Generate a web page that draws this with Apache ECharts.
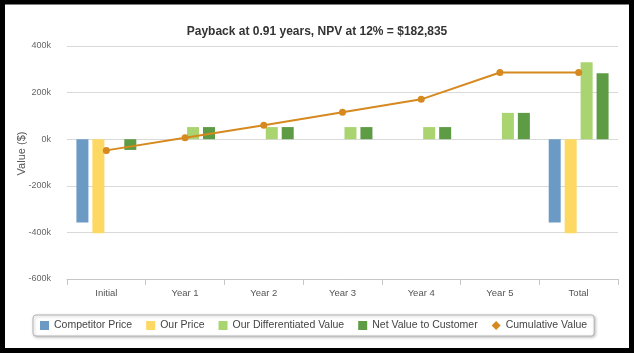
<!DOCTYPE html>
<html>
<head>
<meta charset="utf-8">
<script src="https://cdn.jsdelivr.net/npm/echarts@6/dist/echarts.min.js"></script>
<style>
  html, body { margin: 0; padding: 0; background: #fff; }
  #chart { width: 634px; height: 353px; }
</style>
</head>
<body>
<div id="chart"></div>
<script>
// values, in dollars
var categories = ['Initial', 'Year 1', 'Year 2', 'Year 3', 'Year 4', 'Year 5', 'Total']
var competitorPrice = [-357000, null, null, null, null, null, -357000]
var ourPrice = [-404000, null, null, null, null, null, -404000]
var diffValue = [null, 52000, 52000, 52000, 52000, 113000, 330000]
var netValue = [-46000, 52000, 52000, 52000, 52000, 113000, 283000]
var cumulativeValue = [-48000, 6000, 60000, 116000, 171000, 286000, 286000]
var yTicks = { min: -600000, max: 400000, step: 200000 }

var chart = echarts.init(document.getElementById('chart'))

function barSeries(name, data, color) {
  return {
    name: name,
    type: 'bar',
    data: data,
    barWidth: 12,
    barGap: '33%',
    itemStyle: { color: color },
    animation: false
  }
}

chart.setOption({
  backgroundColor: '#fff',
  textStyle: { fontFamily: '"Liberation Sans", Arial, sans-serif' },
  title: {
    text: 'Payback at 0.91 years, NPV at 12% = $182,835',
    left: 'center',
    top: 21,
    textStyle: { fontSize: 12, fontWeight: 'bold', color: '#333' }
  },
  grid: {
    left: 67,
    right: 16,
    top: 46,
    bottom: 74
  },
  legend: {
    left: 33,
    top: 315,
    padding: [5, 7],
    itemWidth: 9,
    itemHeight: 9,
    itemGap: 14,
    backgroundColor: '#fff',
    borderColor: '#b5b5b5',
    borderWidth: 1,
    borderRadius: 3,
    shadowColor: 'rgba(0,0,0,0.25)',
    shadowBlur: 3,
    shadowOffsetX: 1,
    shadowOffsetY: 1,
    textStyle: { fontSize: 10.5, color: '#444' },
    data: [
      { name: 'Competitor Price', icon: 'rect' },
      { name: 'Our Price', icon: 'rect' },
      { name: 'Our Differentiated Value', icon: 'rect' },
      { name: 'Net Value to Customer', icon: 'rect' },
      { name: 'Cumulative Value', icon: 'diamond' }
    ]
  },
  xAxis: {
    type: 'category',
    data: categories,
    axisLine: { onZero: false, lineStyle: { color: '#c6c6c6' } },
    axisTick: { show: true, length: 6, lineStyle: { color: '#c6c6c6' } },
    axisLabel: { fontSize: 9.5, color: '#555', margin: 9 },
    splitLine: { show: false }
  },
  yAxis: {
    type: 'value',
    min: yTicks.min,
    max: yTicks.max,
    interval: yTicks.step,
    name: 'Value ($)',
    nameLocation: 'middle',
    nameGap: 40,
    nameMoveOverlap: false,
    nameTextStyle: { fontSize: 11, color: '#555', padding: [0, 0, 0, 18] },
    axisLine: { show: false },
    axisTick: { show: false },
    axisLabel: {
      fontSize: 9,
      color: '#666',
      margin: 16,
      formatter: function (v) { return (v / 1000) + 'k' }
    },
    splitLine: { lineStyle: { color: '#d9d9d9' } }
  },
  graphic: [{
    type: 'rect',
    silent: true,
    z: 100,
    shape: { x: 2.5, y: 2, width: 629, height: 348.5 },
    style: { fill: 'none', stroke: '#000', lineWidth: 5 }
  }],
  series: [
    barSeries('Competitor Price', competitorPrice, '#6b9bc4'),
    barSeries('Our Price', ourPrice, '#fdd862'),
    barSeries('Our Differentiated Value', diffValue, '#a9d470'),
    barSeries('Net Value to Customer', netValue, '#5e9b45'),
    {
      name: 'Cumulative Value',
      type: 'line',
      data: cumulativeValue,
      symbol: 'circle',
      symbolSize: 7,
      lineStyle: { color: '#d6891f', width: 2 },
      itemStyle: { color: '#d6891f' },
      z: 5,
      animation: false
    }
  ]
})
</script>
</body>
</html>
